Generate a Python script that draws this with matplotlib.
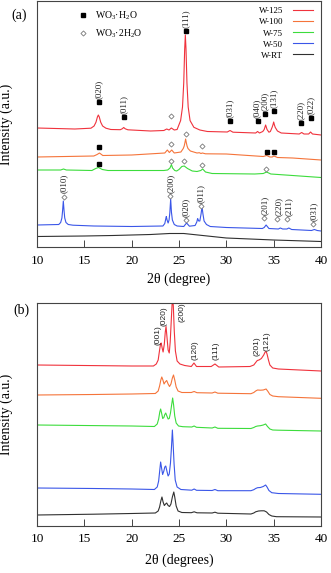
import matplotlib
matplotlib.use("Agg")
import matplotlib.pyplot as plt
from matplotlib.lines import Line2D

plt.rcParams['font.family'] = ['Liberation Serif', 'DejaVu Serif']
plt.rcParams['mathtext.fontset'] = 'custom'
plt.rcParams['mathtext.rm'] = 'Liberation Serif'
plt.rcParams['mathtext.it'] = 'Liberation Serif:italic'

# ---------------- data: panel (a) ----------------
a125_x = [10, 14, 15.7, 16.03, 16.23, 16.38, 16.48, 16.58, 16.73, 16.93, 17.28, 17.8,
          18.8, 19.0, 19.16, 19.32, 19.6, 22, 23.4, 23.7, 23.95, 24.19, 24.5,
          24.8, 25.17, 25.37, 25.5, 25.6, 25.67, 25.74, 25.84, 25.97, 26.17, 26.57, 27.2,
          28, 30.1, 30.39, 30.7, 33.1, 33.3, 33.5, 33.85, 34.0, 34.15, 34.3, 34.5,
          34.65, 34.83, 34.92, 35.0, 35.08, 35.17, 35.4, 35.8, 37.7, 37.96, 38.2, 38.7, 38.9, 39.1, 40]
a125_y = [119, 118, 118.8, 121, 124.8, 130, 132, 130, 124.8, 121, 118.8, 117.5,
          117.3, 118.2, 119.5, 118.2, 117.2, 116, 116.5, 118, 117, 119, 117,
          117.5, 126.4, 140, 164, 198, 212, 198, 164, 140, 126.4, 119.7, 117,
          115.5, 115, 116.5, 114.8, 114, 115.5, 114, 115.5, 117.5, 122, 117.5, 114.8,
          115.5, 119.5, 122, 125, 122, 119.5, 116, 114, 113, 114.5, 113, 113, 115, 113, 112]

a100_x = [10, 16.0, 16.35, 16.6, 16.95, 20, 23.5, 23.77, 23.98, 24.23, 24.5, 25.2, 25.45, 25.55,
          25.63, 25.7, 25.77, 25.85, 25.95, 26.2, 26.9, 27.15, 27.32, 27.47, 27.8, 30, 33.9,
          34.26, 34.6, 34.85, 35.03, 35.4, 37, 40]
a100_y = [90, 91, 92.5, 94, 91.5, 92, 94, 97, 94.5, 97, 94, 95, 98.5, 101,
          104.5, 108, 104.5, 101, 98.5, 96, 94, 94.3, 93.5, 94, 93.2, 93, 90.5,
          91.5, 90, 90, 91, 89.5, 89, 87]

a75_x = [10, 12.5, 12.8, 13.1, 15.8, 16.2, 16.5, 16.9, 17.5, 20, 23.4, 23.8, 24.05, 24.2, 24.32,
         24.55, 24.75, 25.0, 25.3, 25.55, 25.9, 26.4, 26.9, 27.3, 27.5, 27.8, 28.5, 33, 33.9,
         34.25, 34.7, 37, 40]
a75_y = [77, 77, 78, 77, 76.5, 78.5, 79.5, 77.5, 76.5, 76.5, 76.5, 77, 79, 82.5, 79,
         76.5, 76, 77.5, 80.5, 81, 78.5, 76, 75.5, 76.5, 78, 75, 73.5, 73, 73.5,
         75, 73, 71.5, 69.5]

a50_x = [10, 12.3, 12.5, 12.63, 12.7, 12.78, 12.86, 12.93, 13.06, 13.3, 13.8, 16, 20,
         23.3, 23.5, 23.6, 23.66, 23.74, 23.85, 23.95, 24.03, 24.12, 24.2, 24.3, 24.5, 24.8,
         25.5, 25.8, 26.1, 26.7, 26.88, 26.97, 27.08, 27.2, 27.33, 27.43, 27.53, 27.65, 27.9,
         28.3, 30, 33.8, 34.0, 34.2, 34.5, 35.5, 35.7, 35.95, 36.4, 36.6, 36.9, 39, 39.3, 39.6, 40]
a50_y = [22, 22.5, 24.5, 29, 36, 46, 36, 29, 24.5, 22.5, 21.8, 21, 20.5,
         21, 23.5, 28, 30.5, 27, 24, 27, 34, 48, 35, 27, 22.5, 21,
         20.5, 24, 20.8, 21.5, 25, 28.5, 26, 26, 33, 40.5, 33, 26, 22.5,
         20.5, 19.5, 18.5, 19.5, 22, 18.5, 18, 19, 18, 18, 19, 17.5, 16.5, 17.5, 16.5, 16]

aRT_x = [10, 15, 18, 20, 22, 24, 25.5, 27, 30, 35, 40]
aRT_y = [10.5, 11, 11.5, 12, 12.5, 13.5, 13.5, 12, 9, 7, 5.5]

# WO3·H2O (filled squares) and WO3·2H2O (open diamonds) markers, panel (a)
sq_x = [16.5, 19.2, 25.7, 30.4, 33.3, 34.1, 35.0, 37.9, 38.9, 16.6, 34.3, 35.0, 16.5]
sq_y = [145, 130, 216, 126, 126, 133, 136, 124, 129, 100.5, 95.3, 95.3, 83]
di_x = [24.2, 24.2, 25.75, 27.45, 24.2, 25.55, 27.45, 34.15,
        12.8, 24.1, 25.75, 27.35, 33.98, 35.4, 36.4, 39.2]
di_y = [131, 103, 113.5, 101, 86.3, 86, 82, 78,
        50.3, 51, 27, 41, 28.7, 28, 28, 22.7]

# hkl labels panel (a)
lab_a_text = ['(020)', '(011)', '(111)', '(031)', '(040)', '(200)', '(131)', '(220)', '(022)',
              '(010)', '(200)', '(020)', '(011)', '(201)', '(220)', '(211)', '(031)']
lab_a_x = [16.5, 19.2, 25.7, 30.4, 33.2, 34.1, 35.0, 37.9, 38.9,
           12.8, 24.1, 25.75, 27.35, 34.05, 35.5, 36.55, 39.2]
lab_a_y = [145, 130, 216, 126, 126, 133, 136, 124, 129,
           50.3, 51, 27, 41, 28.7, 28, 28, 22.7]

# ---------------- data: panel (b) ----------------
b125_x = [10, 15, 20, 22.3, 22.6, 22.8, 22.95, 23.05, 23.12, 23.22, 23.32, 23.45, 23.55, 23.63,
          23.72, 23.85, 23.97, 24.07, 24.18, 24.27, 24.33, 24.4, 24.5, 24.62, 24.8, 25.1, 25.6,
          26.3, 26.58, 26.85, 28.4, 28.8, 29.2, 32.5, 32.9, 33.1, 33.27, 33.45, 33.7, 33.95,
          34.1, 34.2, 34.3, 34.45, 34.6, 34.9, 35.5, 40]
b125_y = [161, 160.5, 160, 160, 162, 166, 176, 182, 183, 178, 174, 182, 194, 199.5,
          190, 176, 173, 184, 205, 222, 228, 220, 195, 175, 165, 162, 160.5,
          159.5, 163, 159.5, 159.5, 162, 159, 159.5, 161, 163.5, 165.5, 166, 167.5, 171,
          174, 174.5, 172, 166, 161, 158, 157, 155]

b100_x = [10, 16, 20, 22.5, 22.8, 22.95, 23.08, 23.18, 23.3, 23.42, 23.55, 23.7, 23.85, 24.0,
          24.15, 24.3, 24.42, 24.55, 24.7, 24.9, 25.3, 26.3, 26.6, 26.9, 28.5, 28.8, 29.1,
          32.6, 32.9, 33.1, 33.3, 33.6, 33.9, 34.2, 34.4, 34.6, 34.9, 35.5, 40]
b100_y = [131, 131.5, 132, 132.5, 135, 140, 146, 149, 146, 142, 144, 145.5, 142, 139.5,
          142, 148, 151, 146, 139, 135, 133.5, 133.5, 134.5, 133.3, 133, 134, 132.8,
          132.3, 133.5, 135, 136, 135.8, 136, 137, 134.5, 131.5, 130, 129.3, 127.7]

b75_x = [10, 20, 22.4, 22.7, 22.85, 22.97, 23.06, 23.16, 23.28, 23.4, 23.5, 23.6, 23.72, 23.85,
         23.97, 24.1, 24.22, 24.33, 24.43, 24.55, 24.7, 24.95, 25.4, 26.35, 26.6, 26.85, 28.5,
         28.8, 29.1, 32.6, 32.9, 33.1, 33.3, 33.6, 33.9, 34.15, 34.35, 34.6, 34.9, 35.5, 40]
b75_y = [101, 100, 99.5, 102, 107, 114, 117, 113, 107.5, 108.5, 111.5, 113, 110, 107,
         107.5, 113, 121, 128, 121, 110, 103, 100, 99.3, 99, 100, 98.7, 98,
         99, 97.7, 97.5, 98.5, 99.5, 100, 100.3, 101, 102, 99.5, 97, 96, 95.8, 95]

b50_x = [10, 16, 20, 22.4, 22.7, 22.85, 22.97, 23.06, 23.16, 23.27, 23.4, 23.5, 23.6, 23.72,
         23.85, 23.97, 24.1, 24.2, 24.3, 24.38, 24.48, 24.6, 24.8, 25.2, 26.35, 26.6, 26.85,
         28.5, 28.8, 29.1, 32.6, 32.9, 33.1, 33.3, 33.6, 33.9, 34.15, 34.3, 34.5, 34.8, 35.5, 40]
b50_y = [38, 37.5, 37, 36.5, 39, 45, 56, 64, 58, 51.5, 55, 59, 60, 55,
         50, 52, 63, 78, 96, 82, 62, 46, 39, 36.5, 35.8, 37, 35.7,
         35.5, 36.5, 35.3, 35.3, 36.3, 37.5, 38.3, 38.5, 39.5, 41, 39, 35.5, 33.3, 32.5, 31.7]

bRT_x = [10, 16, 20, 22.5, 22.8, 22.95, 23.08, 23.2, 23.32, 23.45, 23.58, 23.7, 23.85, 24.0,
         24.15, 24.3, 24.45, 24.55, 24.7, 24.9, 25.3, 26.3, 26.6, 26.9, 28.5, 28.8, 29.1,
         32.6, 32.9, 33.1, 33.4, 33.7, 34.0, 34.25, 34.5, 34.8, 35.3, 40]
bRT_y = [11, 11.8, 12.5, 13, 15, 19, 25, 29, 24, 20.5, 22, 23, 20.5, 19.5,
         22, 29, 34, 29, 20, 15, 13.5, 13.3, 14.2, 13.2, 13, 13.8, 12.8,
         12, 13, 14.2, 15, 15.2, 15.2, 14, 11.5, 10, 9.3, 9]

lab_b_text = ['(001)', '(020)', '(200)', '(120)', '(111)', '(201)', '(121)']
lab_b_x = [22.8, 23.45, 25.3, 26.7, 28.9, 33.2, 34.26]
lab_b_y = [181, 200, 204, 166, 166, 170, 175]

series_names = ['W-125', 'W-100', 'W-75', 'W-50', 'W-RT']
colors = ['#F0323C', '#F5743A', '#3CDC3C', '#3A56E8', '#303030']
xticks = [10, 15, 20, 25, 30, 35, 40]

# ---------------- figure ----------------
W, H = 331, 573
fig = plt.figure(figsize=(W / 100, H / 100), dpi=100)
axA = fig.add_axes([37 / W, 1 - 247 / H, 284 / W, 246 / H])
axB = fig.add_axes([37 / W, 1 - 526 / H, 284 / W, 223.3 / H])

frame_col = '#444444'
for ax in (axA, axB):
    ax.set_xlim(10, 40)
    ax.set_xticks(xticks)
    ax.set_yticks([])
    ax.tick_params(axis='x', direction='in', length=5, width=0.7, color=frame_col,
                   labelsize=9.5, top=False)
    for s in ax.spines.values():
        s.set_color(frame_col)
        s.set_linewidth(0.8)

axA.set_ylim(0, 246)
axB.set_ylim(0, 223.3)
axA.tick_params(axis='x', pad=6)
axB.tick_params(axis='x', pad=5)

lw = 0.8
la = []
for xs, ys, c, n in zip([a125_x, a100_x, a75_x, a50_x, aRT_x],
                        [a125_y, a100_y, a75_y, a50_y, aRT_y], colors, series_names):
    l, = axA.plot(xs, ys, color=c, lw=lw, label=n)
    la.append(l)
for xs, ys, c in zip([b125_x, b100_x, b75_x, b50_x, bRT_x],
                     [b125_y, b100_y, b75_y, b50_y, bRT_y], colors):
    axB.plot(xs, ys, color=c, lw=lw)

axA.plot(sq_x, sq_y, ls='none', marker='s', ms=2.4, color='black')
axA.plot(di_x, di_y, ls='none', marker='D', ms=2.6, mfc='white', mec='#777777', mew=0.6)

for t, x, y in zip(lab_a_text, lab_a_x, lab_a_y):
    axA.annotate(t, (x, y), xytext=(0, 2.4), textcoords='offset points', rotation=90,
                 ha='center', va='bottom', fontsize=6.5, color='#222222')
for t, x, y in zip(lab_b_text, lab_b_x, lab_b_y):
    axB.text(x, y, t, rotation=90, ha='center', va='bottom', fontsize=6,
             family=['Liberation Sans', 'DejaVu Sans'], color='#222222')

# legends
leg1 = axA.legend(handles=la, loc='upper right', bbox_to_anchor=(1 - 8 / 284, 0.975),
                  frameon=False, fontsize=6.5, markerfirst=False, handlelength=2.2,
                  handletextpad=1.1, labelspacing=0.3, borderpad=0, borderaxespad=0)
axA.add_artist(leg1)
hs = [Line2D([], [], ls='none', marker='s', ms=2.4, color='black'),
      Line2D([], [], ls='none', marker='D', ms=2.6, mfc='white', mec='#777777', mew=0.6)]
axA.legend(handles=hs, labels=['WO$_3$·H$_2$O', 'WO$_3$·2H$_2$O'], loc='upper left',
           bbox_to_anchor=((78 - 37) / 284, 0.965), frameon=False, fontsize=7,
           handlelength=1.0, handletextpad=0.7, labelspacing=0.55, borderpad=0, borderaxespad=0)

axA.set_xlabel('2θ (degree)', fontsize=10, labelpad=4)
axB.set_xlabel('2θ (degrees)', fontsize=10, labelpad=6)
for ax in (axA, axB):
    ax.set_ylabel('Intensity (a.u.)', fontsize=10)
    ax.yaxis.set_label_coords(-0.085, 0.5)

fig.text(19.5 / W, 1 - 15 / H, '(a)', fontsize=10, ha='center', va='center')
fig.text(21 / W, 1 - 310 / H, '(b)', fontsize=10, ha='center', va='center')

fig.savefig('out.png', dpi=100)
